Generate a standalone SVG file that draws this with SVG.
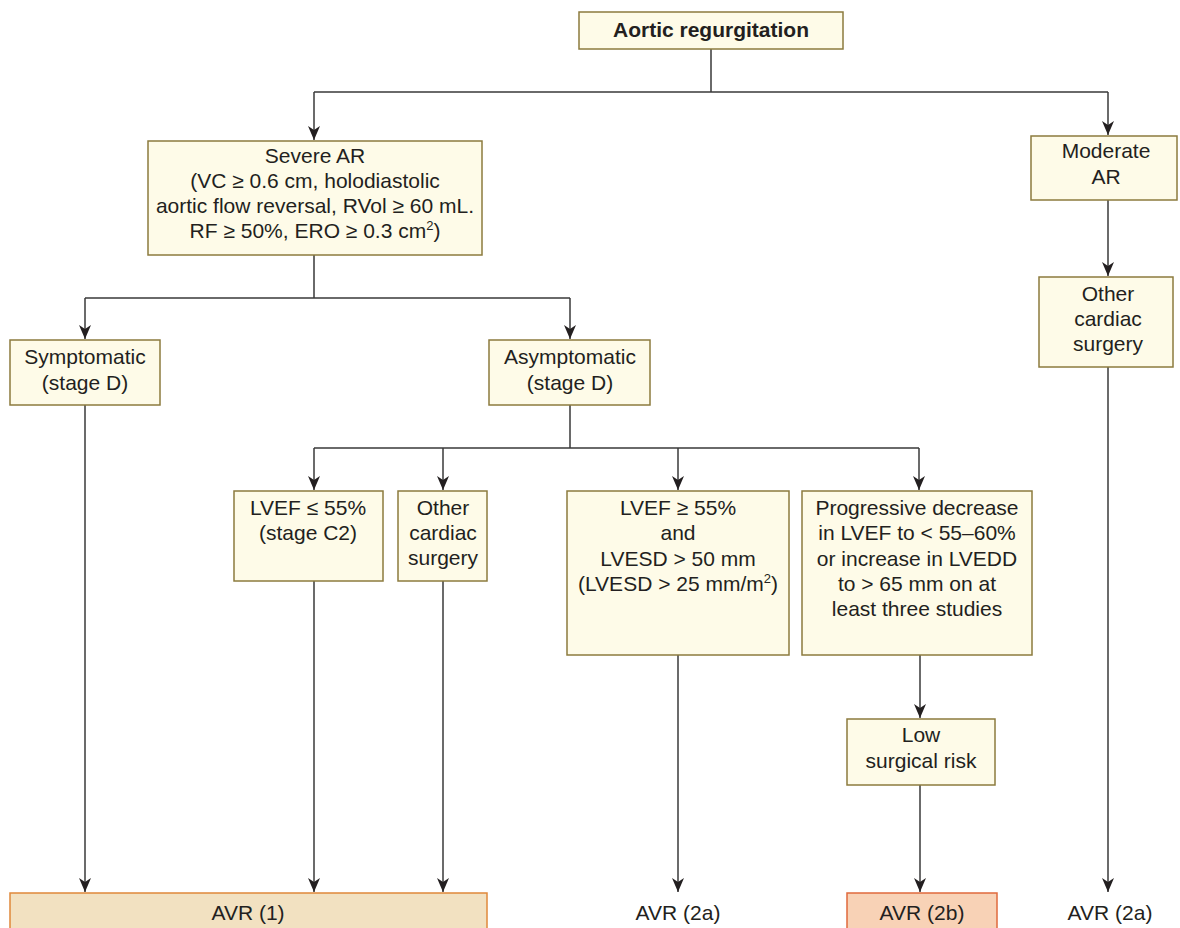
<svg xmlns="http://www.w3.org/2000/svg" width="1180" height="928" viewBox="0 0 1180 928">
<style>
.box{fill:#fefbe8;stroke:#8c7b3e;stroke-width:1.5}
.t{font-family:"Liberation Sans",Arial,sans-serif;font-size:21px;fill:#231f20;text-anchor:middle}
.b{font-weight:bold}
.ln{fill:none;stroke:#3a3a3a;stroke-width:1.5}
.sup{font-size:13px}
</style>
<defs>
<marker id="ah" markerUnits="userSpaceOnUse" markerWidth="14" markerHeight="12" refX="14" refY="6" orient="auto" viewBox="0 0 14 12">
<path d="M0,0 L4,6 L0,12 L14,6 Z" fill="#231f20"/>
</marker>
</defs>
<rect width="1180" height="928" fill="#ffffff"/>
<g id="connectors">
<path class="ln" d="M711,49 V92 M314,92 H1108"/>
<path class="ln" d="M314,92 V140" marker-end="url(#ah)"/>
<path class="ln" d="M1108,92 V135" marker-end="url(#ah)"/>
<path class="ln" d="M314,255 V298 M85,298 H570"/>
<path class="ln" d="M85,298 V339" marker-end="url(#ah)"/>
<path class="ln" d="M570,298 V339" marker-end="url(#ah)"/>
<path class="ln" d="M570,405 V448 M314,448 H919"/>
<path class="ln" d="M314,448 V490" marker-end="url(#ah)"/>
<path class="ln" d="M443,448 V490" marker-end="url(#ah)"/>
<path class="ln" d="M678,448 V490" marker-end="url(#ah)"/>
<path class="ln" d="M919,448 V490" marker-end="url(#ah)"/>
<path class="ln" d="M1108,200 V276" marker-end="url(#ah)"/>
<path class="ln" d="M1108,367 V892" marker-end="url(#ah)"/>
<path class="ln" d="M85,405 V892" marker-end="url(#ah)"/>
<path class="ln" d="M314,581 V892" marker-end="url(#ah)"/>
<path class="ln" d="M443,581 V892" marker-end="url(#ah)"/>
<path class="ln" d="M678,655 V892" marker-end="url(#ah)"/>
<path class="ln" d="M920,655 V718" marker-end="url(#ah)"/>
<path class="ln" d="M920,785 V892" marker-end="url(#ah)"/>
</g>
<g id="n-aortic">
<rect class="box" x="579" y="12" width="264" height="37"/>
<text class="t b" x="711" y="37">Aortic regurgitation</text>
</g>
<g id="n-severe">
<rect class="box" x="148" y="141" width="334" height="114"/>
<text class="t" x="315" y="163">Severe AR</text>
<text class="t" x="315" y="188">(VC ≥ 0.6 cm, holodiastolic</text>
<text class="t" x="315" y="213">aortic flow reversal, RVol ≥ 60 mL.</text>
<text class="t" x="315" y="238">RF ≥ 50%, ERO ≥ 0.3 cm<tspan class="sup" dy="-8">2</tspan><tspan dy="8">)</tspan></text>
</g>
<g id="n-moderate">
<rect class="box" x="1031" y="136" width="146" height="64"/>
<text class="t" x="1106" y="158">Moderate</text>
<text class="t" x="1106" y="184">AR</text>
</g>
<g id="n-other-right">
<rect class="box" x="1039" y="277" width="134" height="90"/>
<text class="t" x="1108" y="301">Other</text>
<text class="t" x="1108" y="326">cardiac</text>
<text class="t" x="1108" y="351">surgery</text>
</g>
<g id="n-symptomatic">
<rect class="box" x="10" y="340" width="150" height="65"/>
<text class="t" x="85" y="364">Symptomatic</text>
<text class="t" x="85" y="390">(stage D)</text>
</g>
<g id="n-asymptomatic">
<rect class="box" x="489" y="340" width="161" height="65"/>
<text class="t" x="570" y="364">Asymptomatic</text>
<text class="t" x="570" y="390">(stage D)</text>
</g>
<g id="n-lvef-low">
<rect class="box" x="234" y="491" width="149" height="90"/>
<text class="t" x="308" y="515">LVEF ≤ 55%</text>
<text class="t" x="308" y="540">(stage C2)</text>
</g>
<g id="n-other-mid">
<rect class="box" x="398" y="491" width="89" height="90"/>
<text class="t" x="443" y="515">Other</text>
<text class="t" x="443" y="540">cardiac</text>
<text class="t" x="443" y="565">surgery</text>
</g>
<g id="n-lvef-high">
<rect class="box" x="567" y="491" width="222" height="164"/>
<text class="t" x="678" y="515">LVEF ≥ 55%</text>
<text class="t" x="678" y="540">and</text>
<text class="t" x="678" y="566">LVESD &gt; 50 mm</text>
<text class="t" x="678" y="591">(LVESD &gt; 25 mm/m<tspan class="sup" dy="-8">2</tspan><tspan dy="8">)</tspan></text>
</g>
<g id="n-progressive">
<rect class="box" x="802" y="491" width="230" height="164"/>
<text class="t" x="917" y="515">Progressive decrease</text>
<text class="t" x="917" y="540">in LVEF to &lt; 55–60%</text>
<text class="t" x="917" y="566">or increase in LVEDD</text>
<text class="t" x="917" y="591">to &gt; 65 mm on at</text>
<text class="t" x="917" y="616">least three studies</text>
</g>
<g id="n-lowrisk">
<rect class="box" x="847" y="719" width="148" height="66"/>
<text class="t" x="921" y="742">Low</text>
<text class="t" x="921" y="768">surgical risk</text>
</g>
<g id="n-avr1">
<rect x="10" y="893" width="477" height="50" fill="#f2e1c1" stroke="#e0883a" stroke-width="1.5"/>
<text class="t" x="248" y="920">AVR (1)</text>
</g>
<g id="n-avr2a-mid">
<text class="t" x="678" y="920">AVR (2a)</text>
</g>
<g id="n-avr2b">
<rect x="847" y="893" width="150" height="50" fill="#f8d2b6" stroke="#e06a3c" stroke-width="1.5"/>
<text class="t" x="922" y="920">AVR (2b)</text>
</g>
<g id="n-avr2a-right">
<text class="t" x="1110" y="920">AVR (2a)</text>
</g>
</svg>
